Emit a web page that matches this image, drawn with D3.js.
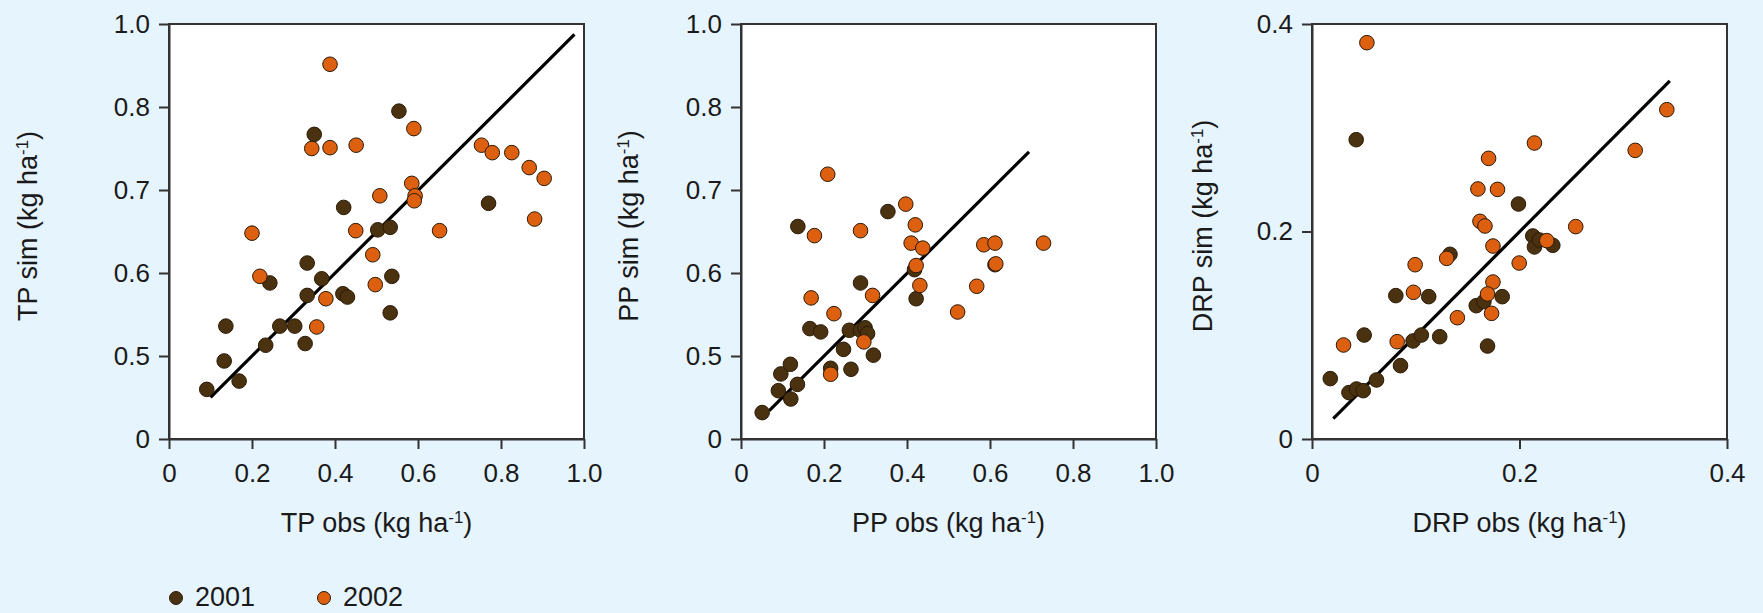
<!DOCTYPE html>
<html lang="en">
<head>
<meta charset="UTF-8">
<script src="https://cdn.jsdelivr.net/npm/d3@7"></script>
<title>TP, PP and DRP simulated vs observed</title>
<style>
  html, body { margin: 0; padding: 0; background: #e6f4fe; }
  svg text { font-family: "Liberation Sans", Arial, Helvetica, sans-serif; fill: #1a1a1a; }
</style>
</head>
<body>
<svg id="vis" width="1763" height="613"></svg>
<script>
// ---- data: [obs, sim] ----
var tp2001 = [[0.091,0.299],[0.137,0.536],[0.133,0.470],[0.169,0.349],[0.233,0.513],[0.243,0.588],
  [0.267,0.536],[0.303,0.536],[0.328,0.515],[0.333,0.612],[0.333,0.573],[0.368,0.593],[0.350,0.767],
  [0.421,0.679],[0.419,0.575],[0.430,0.571],[0.503,0.652],[0.533,0.655],[0.537,0.596],[0.533,0.552],
  [0.554,0.795],[0.770,0.684]];
var tp2002 = [[0.388,0.903],[0.344,0.750],[0.388,0.751],[0.451,0.754],[0.590,0.774],[0.585,0.708],
  [0.593,0.693],[0.591,0.687],[0.508,0.693],[0.450,0.651],[0.200,0.648],[0.219,0.596],[0.491,0.622],
  [0.497,0.586],[0.378,0.569],[0.356,0.535],[0.652,0.651],[0.753,0.754],[0.779,0.745],[0.826,0.745],
  [0.868,0.727],[0.904,0.714],[0.881,0.665]];
var tpFit = [[0.100,0.251],[0.977,0.975]];

var pp2001 = [[0.051,0.159],[0.090,0.291],[0.096,0.392],[0.119,0.450],[0.120,0.241],[0.136,0.329],
  [0.137,0.656],[0.166,0.533],[0.192,0.529],[0.216,0.426],[0.247,0.508],[0.261,0.531],[0.265,0.420],
  [0.288,0.588],[0.288,0.531],[0.299,0.534],[0.305,0.527],[0.319,0.501],[0.354,0.674],[0.418,0.604],
  [0.422,0.569],[0.612,0.610]];
var pp2002 = [[0.209,0.719],[0.177,0.645],[0.169,0.570],[0.224,0.551],[0.216,0.390],[0.288,0.651],
  [0.317,0.573],[0.296,0.517],[0.397,0.683],[0.420,0.658],[0.410,0.636],[0.438,0.630],[0.422,0.609],
  [0.431,0.585],[0.522,0.553],[0.568,0.584],[0.585,0.634],[0.612,0.636],[0.614,0.611],[0.729,0.636]];
var ppFit = [[0.068,0.171],[0.694,0.746]];

var drp2001 = [[0.0176,0.0582],[0.0356,0.0447],[0.0429,0.0482],[0.0494,0.0466],[0.0622,0.0569],
  [0.0503,0.1002],[0.0426,0.2885],[0.0853,0.0707],[0.0808,0.1382],[0.0974,0.0945],[0.1054,0.1002],
  [0.1125,0.1372],[0.1231,0.0986],[0.1330,0.1780],[0.1583,0.1285],[0.1657,0.1324],[0.1692,0.0896],
  [0.1833,0.1372],[0.1990,0.2265],[0.2128,0.1957],[0.2144,0.1851],[0.2192,0.1918],[0.2321,0.1867]];
var drp2002 = [[0.0304,0.0906],[0.0529,0.3820],[0.0821,0.0938],[0.0978,0.1414],[0.0994,0.1680],
  [0.1298,0.1741],[0.1401,0.1169],[0.1599,0.2410],[0.1702,0.2705],[0.1788,0.2406],[0.1619,0.2098],
  [0.1667,0.2053],[0.1744,0.1860],[0.1744,0.1513],[0.1692,0.1398],[0.1731,0.1211],[0.1997,0.1696],
  [0.2144,0.2853],[0.2263,0.1912],[0.2542,0.2047],[0.3115,0.2782],[0.3420,0.3174]];
var drpFit = [[0.0205,0.0196],[0.3449,0.3451]];

var pTicksX = [0, 0.2, 0.4, 0.6, 0.8, 1.0];
var pTicksY = [0, 0.5, 0.6, 0.7, 0.8, 1.0];   // labels as printed, evenly spaced
var drpTicks = [0, 0.2, 0.4];
var years = ["2001", "2002"];
var yearColors = ["#4a3211", "#dc6010"];

var svg = d3.select("#vis");
var plotSize = 415, plotTop = 24;

function fmt(v){ return v === 0 ? "0" : v.toFixed(1); }

function addLabel(sel, name){
  sel.append("tspan").text(name + " (kg ha");
  sel.append("tspan").attr("dy", "-0.55em").attr("font-size", "0.62em").text("-1");
  sel.append("tspan").attr("dy", "0.34em").text(")");
}

function panel(opt){
  var g = svg.append("g").attr("transform", "translate(" + opt.left + "," + plotTop + ")");
  var x = d3.scaleLinear().domain(opt.xDomain).range([0, plotSize]);
  var y = d3.scaleLinear().domain(opt.yDomain).range(opt.yRange);

  g.append("rect").attr("width", plotSize).attr("height", plotSize)
    .attr("fill", "#fff").attr("stroke", "#333").attr("stroke-width", 2);

  var ax = g.append("g").attr("transform", "translate(0," + plotSize + ")")
    .call(d3.axisBottom(x).tickValues(opt.xTicks).tickFormat(fmt).tickSize(10).tickSizeOuter(0).tickPadding(15));
  var ay = g.append("g")
    .call(d3.axisLeft(y).tickValues(opt.yTicks).tickFormat(fmt).tickSize(10).tickSizeOuter(0).tickPadding(9));
  [ax, ay].forEach(function(a){
    a.select(".domain").attr("stroke", "#333").attr("stroke-width", 2);
    a.selectAll(".tick line").attr("stroke", "#333").attr("stroke-width", 2);
    a.selectAll(".tick text").attr("font-size", 26).attr("fill", "#1a1a1a")
      .attr("font-family", "Liberation Sans, Arial, sans-serif");
  });

  // regression line
  g.append("line")
    .attr("x1", x(opt.fit[0][0])).attr("y1", y(opt.fit[0][1]))
    .attr("x2", x(opt.fit[1][0])).attr("y2", y(opt.fit[1][1]))
    .attr("stroke", "#000").attr("stroke-width", 3.2);

  [opt.d2001, opt.d2002].forEach(function(d, i){
    g.append("g").selectAll("circle").data(d).join("circle")
      .attr("cx", function(p){ return x(p[0]); })
      .attr("cy", function(p){ return y(p[1]); })
      .attr("r", 7.3)
      .attr("fill", yearColors[i])
      .attr("stroke", "#2a1a06").attr("stroke-width", 1);
  });

  var xt = svg.append("text").attr("x", opt.left + plotSize / 2).attr("y", 532)
    .attr("text-anchor", "middle").attr("font-size", 27);
  addLabel(xt, opt.name + " obs");

  var yt = svg.append("text")
    .attr("transform", "translate(" + opt.titleX + ",226) rotate(-90)")
    .attr("text-anchor", "middle").attr("font-size", 27);
  addLabel(yt, opt.name + " sim");
}

// evenly spaced y labels on the TP and PP panels
var evenY = pTicksY.map(function(v, i){ return plotSize - i * plotSize / 5; });

panel({ name: "TP", left: 169, titleX: 37, xDomain: [0, 1], xTicks: pTicksX,
  yDomain: pTicksY, yRange: evenY, yTicks: pTicksY, d2001: tp2001, d2002: tp2002, fit: tpFit });
panel({ name: "PP", left: 741, titleX: 638, xDomain: [0, 1], xTicks: pTicksX,
  yDomain: pTicksY, yRange: evenY, yTicks: pTicksY, d2001: pp2001, d2002: pp2002, fit: ppFit });
panel({ name: "DRP", left: 1312, titleX: 1212, xDomain: [0, 0.4], xTicks: drpTicks,
  yDomain: [0, 0.4], yRange: [plotSize, 0], yTicks: drpTicks, d2001: drp2001, d2002: drp2002, fit: drpFit });

// legend
var leg = svg.append("g");
years.forEach(function(yr, i){
  var lx = 176 + i * 148;
  leg.append("circle").attr("cx", lx).attr("cy", 598).attr("r", 6.5)
    .attr("fill", yearColors[i]).attr("stroke", "#2a1a06").attr("stroke-width", 1);
  leg.append("text").attr("x", lx + 19).attr("y", 606).attr("font-size", 27).text(yr);
});
</script>
</body>
</html>
